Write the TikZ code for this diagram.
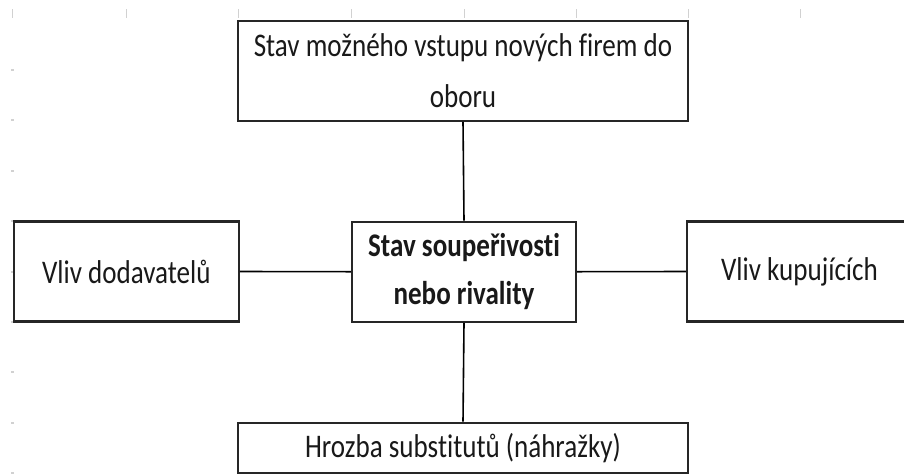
\documentclass[tikz,border=0pt]{standalone}
\usepackage{fontspec}
\setmainfont[FakeStretch=0.82,Ligatures={NoCommon}]{Carlito}
\begin{document}
\begin{tikzpicture}[x=1pt,y=-1pt,
  box/.style={draw=black!85, line width=2.2pt, fill=white, rectangle, inner sep=0pt, align=center, text=black!90},
  txt/.style={font=\fontsize{33}{51}\selectfont},
  boldtxt/.style={font=\bfseries\fontsize{33}{48}\selectfont},
  link/.style={draw=black, line width=1.6pt},
  grid/.style={draw=black!18, line width=1pt}]
\useasboundingbox (0,0) rectangle (904,475);
\clip (0,0) rectangle (904,475);
% faint sheet grid marks
\foreach \gx in {12,126,238,351,464,576,688,800}
  \draw[grid] (\gx,9) -- (\gx,18);
\foreach \gy in {70,120,171,221,272,322,372,423,473}
  \fill[black!18] (11,\gy-1) rectangle (13.5,\gy+1);
% boxes
\node[box, txt, minimum width=450, minimum height=100] (top) at (463,70.7)
  {Stav možného vstupu nových firem do\\oboru};
\node[box, boldtxt, minimum width=224, minimum height=100] (mid) at (464,271.7)
  {Stav soupeřivosti\\nebo rivality};
\node[box, txt, minimum width=224.7, minimum height=100] (left) at (126.3,271.5)
  {Vliv dodavatelů};
\node[box, txt, minimum width=225, minimum height=100] (right) at (799.5,271.5)
  {Vliv kupujících};
\node[box, txt, minimum width=450, minimum height=50.3] (bot) at (463,447.8)
  {Hrozba substitutů (náhražky)};
% connectors
\draw[link] (top.south) -- (mid.north);
\draw[link] (left.east) -- (mid.west);
\draw[link] (mid.east) -- (right.west);
\draw[link] (mid.south) -- (bot.north);
\end{tikzpicture}
\end{document}
